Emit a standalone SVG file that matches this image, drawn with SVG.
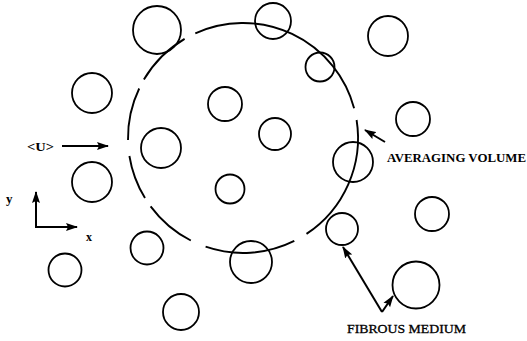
<svg xmlns="http://www.w3.org/2000/svg" width="527" height="341" viewBox="0 0 527 341">
<style>
.f{fill:none;stroke:#000;stroke-width:1.8}
.v{fill:none;stroke:#000;stroke-width:1.9}
.a{fill:none;stroke:#000;stroke-width:2}
.t{font-family:"Liberation Serif","Times New Roman",serif;fill:#000}
</style>
<defs>
<marker id="ah" markerWidth="12" markerHeight="9" refX="11" refY="4.5" orient="auto" markerUnits="userSpaceOnUse">
<path d="M0,0.5 L12,4.5 L0,8.5 L2,4.5 Z" fill="#000"/>
</marker>
</defs>
<rect width="527" height="341" fill="#fff"/>
<g id="fibers">
<circle class="f" cx="157" cy="30" r="24"/>
<circle class="f" cx="273" cy="21" r="18"/>
<circle class="f" cx="320" cy="67" r="14.5"/>
<circle class="f" cx="388" cy="36" r="20"/>
<circle class="f" cx="92" cy="93" r="20"/>
<circle class="f" cx="225" cy="104" r="17"/>
<circle class="f" cx="275" cy="134" r="16"/>
<circle class="f" cx="413" cy="119" r="17"/>
<circle class="f" cx="161" cy="148" r="20"/>
<circle class="f" cx="353" cy="162" r="20"/>
<circle class="f" cx="92" cy="182" r="20"/>
<circle class="f" cx="230" cy="189" r="14.5"/>
<circle class="f" cx="432" cy="214" r="17"/>
<circle class="f" cx="147" cy="248" r="16.5"/>
<circle class="f" cx="251" cy="262" r="21"/>
<circle class="f" cx="342" cy="229" r="16"/>
<circle class="f" cx="65" cy="270" r="16.5"/>
<circle class="f" cx="181" cy="312" r="18"/>
<circle class="f" cx="416" cy="285" r="23.5"/>
</g>
<g id="averaging-volume">
<path class="v" d="M356.6,120 A115,115 0 0 1 306.5,233.9"/>
<path class="v" d="M294.3,240.9 A115,115 0 0 1 205.6,246.7"/>
<path class="v" d="M190.8,240.5 A115,115 0 0 1 150.6,206.4"/>
<path class="v" d="M145,198.1 A115,115 0 0 1 129.4,156"/>
<path class="v" d="M128,140 A115,115 0 0 1 139.2,88.5"/>
<path class="v" d="M143.9,79.6 A115,115 0 0 1 184.6,38.9"/>
<path class="v" d="M195.3,33.3 A115,115 0 0 1 354.1,108.2"/>
</g>
<g id="connectors">
<line class="a" x1="62" y1="146" x2="108" y2="146" marker-end="url(#ah)"/>
<line class="a" x1="36" y1="227" x2="36" y2="192" marker-end="url(#ah)"/>
<line class="a" x1="35" y1="227" x2="77" y2="227" marker-end="url(#ah)"/>
<line class="a" x1="385" y1="142" x2="365" y2="130" marker-end="url(#ah)"/>
<line class="a" x1="382" y1="312" x2="343" y2="247" marker-end="url(#ah)"/>
<line class="a" x1="382" y1="312" x2="393" y2="296" marker-end="url(#ah)"/>
</g>
<g id="labels">
<text class="t" x="27" y="151" font-size="11.5" font-weight="bold" textLength="27" lengthAdjust="spacingAndGlyphs">&lt;U&gt;</text>
<text class="t" x="6" y="203" font-size="13" font-weight="bold">y</text>
<text class="t" x="86" y="241" font-size="12" font-weight="bold">x</text>
<text class="t" x="387" y="162" font-size="13" font-weight="bold" textLength="139" lengthAdjust="spacingAndGlyphs">AVERAGING VOLUME</text>
<text class="t" x="347" y="333" font-size="13" stroke="#000" stroke-width="0.3" textLength="119" lengthAdjust="spacingAndGlyphs">FIBROUS MEDIUM</text>
</g>
</svg>
